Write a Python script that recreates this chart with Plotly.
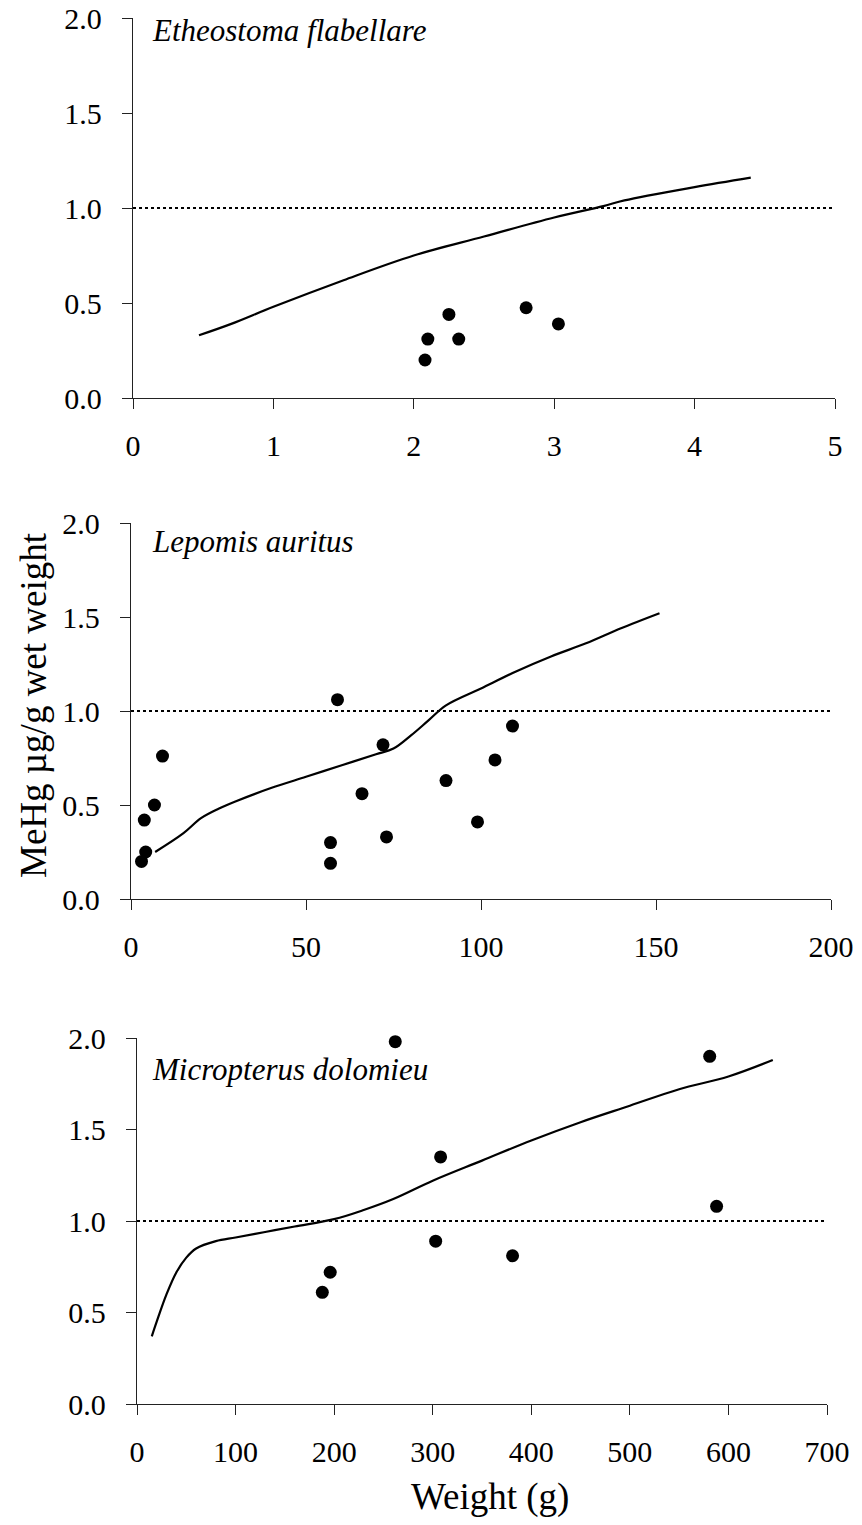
import plotly.graph_objects as go

# --- Etheostoma flabellare ---
ef_w = [2.08, 2.10, 2.25, 2.32, 2.80, 3.03]
ef_hg = [0.20, 0.31, 0.44, 0.31, 0.475, 0.39]
ef_fit_w = [0.47, 0.7, 1.0, 1.5, 2.0, 2.5, 3.0, 3.35, 3.5, 4.0, 4.4]
ef_fit_hg = [0.33, 0.39, 0.48, 0.62, 0.75, 0.85, 0.95, 1.01, 1.04, 1.11, 1.16]

# --- Lepomis auritus ---
la_w = [3.0, 4.2, 3.8, 6.7, 9, 59, 57, 57, 66, 72, 73, 90, 99, 104, 109]
la_hg = [0.20, 0.25, 0.42, 0.50, 0.76, 1.06, 0.30, 0.19, 0.56, 0.82, 0.33, 0.63, 0.41, 0.74, 0.92]
la_fit_w = [6.9, 15, 20, 25, 30, 40, 50, 60, 70, 75, 80, 85, 90, 100, 110, 120, 130, 140, 151]
la_fit_hg = [0.25, 0.35, 0.43, 0.48, 0.52, 0.59, 0.65, 0.71, 0.77, 0.80, 0.87, 0.95, 1.03, 1.12,
             1.21, 1.29, 1.36, 1.44, 1.52]

# --- Micropterus dolomieu ---
md_w = [262, 581, 308, 588, 303, 381, 196, 188]
md_hg = [1.98, 1.90, 1.35, 1.08, 0.89, 0.81, 0.72, 0.61]
md_fit_w = [15, 20, 30, 40, 50, 60, 80, 100, 130, 160, 200, 230, 260, 300, 350, 400, 450,
            500, 550, 600, 645]
md_fit_hg = [0.37, 0.45, 0.60, 0.72, 0.80, 0.85, 0.89, 0.91, 0.94, 0.97, 1.01, 1.06, 1.12,
             1.22, 1.33, 1.44, 1.54, 1.63, 1.72, 1.79, 1.88]

species = ["Etheostoma flabellare", "Lepomis auritus", "Micropterus dolomieu"]
x_ranges = [(0, 5), (0, 200), (0, 700)]
x_dticks = [1, 50, 100]
threshold = 1.0

W, H = 862, 1525
# plot-area pixel boxes (left, right, top, bottom)
boxes = [(133, 835, 18, 398), (131, 831, 523, 899), (137, 827, 1038, 1404)]
title_dy = [13, 18, 31]

FONT = "Liberation Serif"
TICK_SIZE = 30

fig = go.Figure()
panels = [
    (ef_w, ef_hg, ef_fit_w, ef_fit_hg),
    (la_w, la_hg, la_fit_w, la_fit_hg),
    (md_w, md_hg, md_fit_w, md_fit_hg),
]

for i, (pw, ph, fw, fh) in enumerate(panels):
    sfx = "" if i == 0 else str(i + 1)
    xa, ya = "x" + sfx, "y" + sfx
    # threshold line at 1.0 across the full x range
    fig.add_trace(go.Scatter(x=[x_ranges[i][0], x_ranges[i][1]], y=[threshold, threshold],
                             mode="lines", line=dict(color="black", width=1.8, dash="dot"),
                             xaxis=xa, yaxis=ya, showlegend=False, hoverinfo="skip"))
    fig.add_trace(go.Scatter(x=fw, y=fh, mode="lines",
                             line=dict(color="black", width=2.2, shape="spline"),
                             xaxis=xa, yaxis=ya, showlegend=False))
    fig.add_trace(go.Scatter(x=pw, y=ph, mode="markers", cliponaxis=False,
                             marker=dict(color="black", size=13),
                             xaxis=xa, yaxis=ya, showlegend=False))

    l, r, t, b = boxes[i]
    fig.update_layout(**{
        "xaxis" + sfx: dict(domain=[l / W, r / W], anchor=ya, range=list(x_ranges[i]),
                            dtick=x_dticks[i], tick0=0, ticklabelstandoff=11),
        "yaxis" + sfx: dict(domain=[1 - b / H, 1 - t / H], anchor=xa, range=[0, 2],
                            dtick=0.5, tick0=0, tickformat=".1f", ticklabelstandoff=14),
    })
    for ax in ("xaxis" + sfx, "yaxis" + sfx):
        fig.layout[ax].update(showline=True, linecolor="#222", linewidth=1.3,
                              ticks="outside", ticklen=10, tickcolor="#222", tickwidth=1.3,
                              showgrid=False, zeroline=False, automargin=False)
        fig.layout[ax].tickfont.family = FONT
        fig.layout[ax].tickfont.size = TICK_SIZE
        fig.layout[ax].tickfont.color = "black"
    fig.add_annotation(x=150 / W, y=1 - (t + title_dy[i]) / H,
                       xref="paper", yref="paper", xanchor="left", yanchor="middle",
                       text="<i>" + species[i] + "</i>", showarrow=False,
                       font=dict(family=FONT, size=31, color="black"))

fig.add_annotation(x=33 / W, y=1 - 705 / H, xref="paper", yref="paper", textangle=-90,
                   text="MeHg µg/g wet weight", showarrow=False,
                   xanchor="center", yanchor="middle",
                   font=dict(family=FONT, size=37, color="black"))
fig.add_annotation(x=490 / W, y=1 - 1497 / H, xref="paper", yref="paper",
                   text="Weight (g)", showarrow=False, xanchor="center", yanchor="middle",
                   font=dict(family=FONT, size=37, color="black"))

fig.update_layout(width=W, height=H, margin=dict(l=0, r=0, t=0, b=0, autoexpand=False),
                  font=dict(family=FONT, color="black"),
                  paper_bgcolor="white", plot_bgcolor="white")

fig.write_html("out.html")
